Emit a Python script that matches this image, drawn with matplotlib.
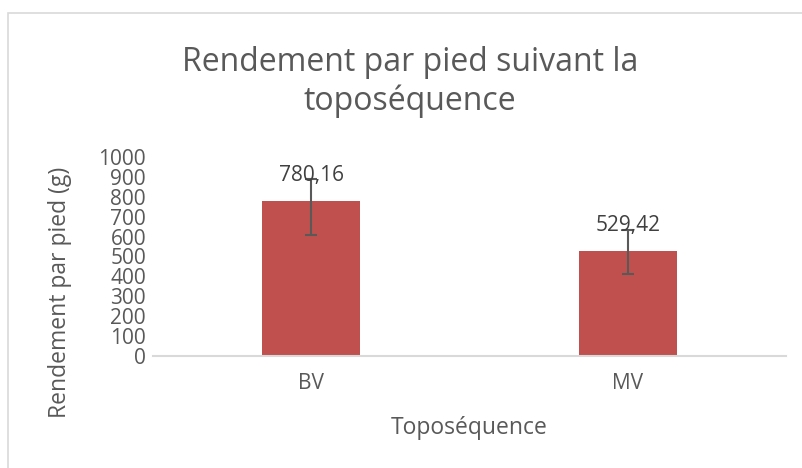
import matplotlib.pyplot as plt
from matplotlib.patches import Rectangle

categories = ["BV", "MV"]
values = [780.16, 529.42]
err_low = [170, 117]
err_high = [110, 106]
value_labels = ["780,16", "529,42"]
yticks = [0, 100, 200, 300, 400, 500, 600, 700, 800, 900, 1000]

W, H = 802, 468
plt.rcParams['font.family'] = ['Open Sans', 'DejaVu Sans']
grey = '#595959'

fig = plt.figure(figsize=(W / 100, H / 100), dpi=100)

def px(x, y):
    return x / W, 1 - y / H

# chart border
fig.patches.append(Rectangle(px(8, 470), (W + 10) / W, (470 - 13) / H,
                             transform=fig.transFigure, fill=False,
                             edgecolor='#d9d9d9', linewidth=1.2))

left, bottom = px(153, 356)
right, top = px(786, 157)
ax = fig.add_axes([left, bottom, right - left, top - bottom])

x = range(len(categories))
ax.bar(x, values, width=0.31, color='#C0504D', zorder=2)
ax.errorbar(x, values, yerr=[err_low, err_high], fmt='none',
            ecolor=grey, elinewidth=1.5, capsize=4, capthick=1.5, zorder=3)

for i, v in enumerate(values):
    ax.annotate(value_labels[i], (i, v), xytext=(0, 18), textcoords='offset points',
                ha='center', va='center', fontsize=15, color='#404040', zorder=4)

ax.set_xlim(-0.5, 1.5)
ax.set_ylim(0, 1000)
ax.set_yticks(yticks)
ax.set_xticks(list(x))
ax.set_xticklabels(categories)
ax.tick_params(axis='both', length=0, labelsize=15, colors=grey)
ax.tick_params(axis='x', pad=12)
ax.tick_params(axis='y', pad=5)
for s in ['top', 'right', 'left']:
    ax.spines[s].set_visible(False)
ax.spines['bottom'].set_color('#d9d9d9')
ax.spines['bottom'].set_linewidth(1.5)

# titles
fig.text(*px(410, 82), "Rendement par pied suivant la\ntoposéquence", ha='center', va='center',
         fontsize=23, color=grey, linespacing=1.2)
fig.text(*px(469, 428), "Toposéquence", ha='center', va='center', fontsize=16.5, color=grey)
fig.text(*px(60, 292), "Rendement par pied (g)", ha='center', va='center', rotation=90,
         fontsize=16.5, color=grey)

fig.savefig('out.png', dpi=100)
